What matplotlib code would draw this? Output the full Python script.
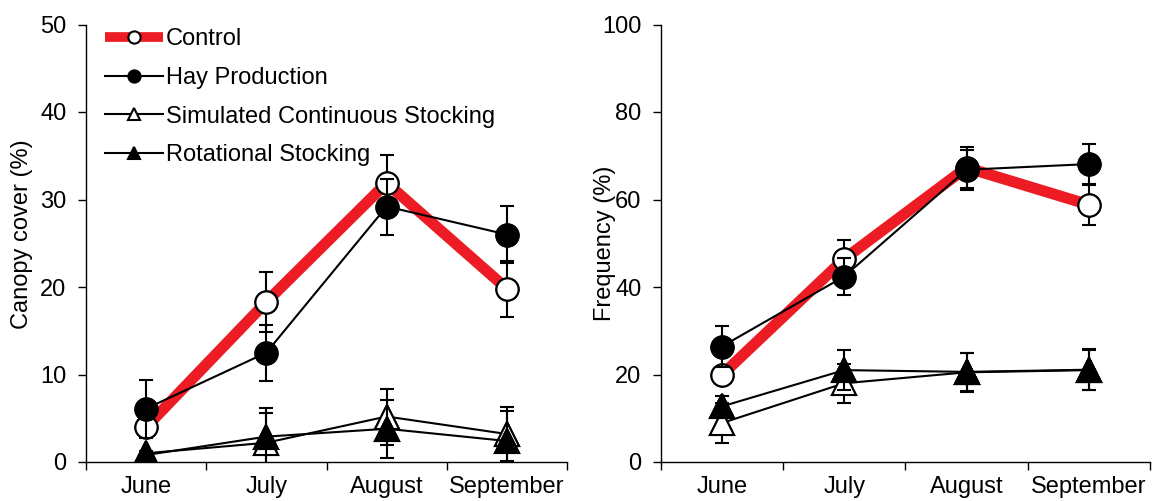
import matplotlib
matplotlib.use("Agg")
import matplotlib.pyplot as plt
from matplotlib.ticker import FixedLocator, NullFormatter, FixedFormatter

plt.rcParams['font.family'] = ['Liberation Sans', 'DejaVu Sans']

months = ["June", "July", "August", "September"]
series_names = ["Control", "Hay Production", "Simulated Continuous Stocking", "Rotational Stocking"]

# Canopy cover (%)
cover_control = [4.0, 18.3, 31.9, 19.8]
cover_control_err = [0.4, 3.4, 3.2, 3.2]
cover_hay = [6.1, 12.5, 29.2, 26.0]
cover_hay_err = [3.3, 3.2, 3.2, 3.3]
cover_scs = [1.0, 2.2, 5.2, 3.2]
cover_scs_err = [0.3, 3.4, 3.2, 3.1]
cover_rs = [0.8, 2.9, 3.8, 2.4]
cover_rs_err = [0.3, 3.3, 3.3, 3.4]

# Frequency (%)
freq_control = [19.9, 46.4, 67.3, 58.8]
freq_control_err = [1.0, 4.4, 4.6, 4.7]
freq_hay = [26.4, 42.4, 66.8, 68.1]
freq_hay_err = [4.7, 4.2, 4.6, 4.7]
freq_scs = [8.9, 18.0, 20.5, 21.0]
freq_scs_err = [4.6, 4.4, 4.5, 4.6]
freq_rs = [12.7, 21.0, 20.6, 21.1]
freq_rs_err = [2.3, 4.6, 4.3, 4.7]

left_ylim = (0, 50)
left_yticks = [0, 10, 20, 30, 40, 50]
right_ylim = (0, 100)
right_yticks = [0, 20, 40, 60, 80, 100]

RED = '#ED1C24'
FS = 17

W, H = 1152, 501
fig = plt.figure(figsize=(W / 100, H / 100), dpi=100)

def axes_px(x0, x1, y_top, y_bot):
    return fig.add_axes([x0 / W, 1 - y_bot / H, (x1 - x0) / W, (y_bot - y_top) / H])

ax1 = axes_px(86, 567, 24.5, 462)
ax2 = axes_px(660.7, 1150, 24.5, 462)

def draw(ax, data, ylim, yticks, ylabel, label_xy):
    x = list(range(len(months)))
    (c, ce), (h, he), (s, se), (r, re_) = data
    ebkw = dict(fmt='none', ecolor='black', elinewidth=1.5, capsize=4.7, capthick=1.5)
    # Control
    ax.plot(x, c, color=RED, lw=8, solid_capstyle='butt', zorder=2, label=series_names[0],
            marker='o', ms=16, mfc='white', mec='black', mew=1.5)
    ax.errorbar(x, c, yerr=ce, zorder=2.05, **ebkw)
    ax.plot(x, c, ls='none', marker='o', ms=16, mfc='white', mec='black', mew=1.5, zorder=2.1)
    # Hay production
    ax.plot(x, h, color='black', lw=1.5, zorder=3, label=series_names[1],
            marker='o', ms=16, mfc='black', mec='black', mew=1.5)
    ax.errorbar(x, h, yerr=he, zorder=3.05, **ebkw)
    ax.plot(x, h, ls='none', marker='o', ms=16, mfc='black', mec='black', mew=1.5, zorder=3.1)
    # Simulated continuous stocking
    ax.plot(x, s, color='black', lw=1.5, zorder=4, label=series_names[2],
            marker='^', ms=17, mfc='white', mec='black', mew=1.5)
    ax.errorbar(x, s, yerr=se, zorder=4.05, **ebkw)
    ax.plot(x, s, ls='none', marker='^', ms=17, mfc='white', mec='black', mew=1.5, zorder=4.1)
    # Rotational stocking
    ax.plot(x, r, color='black', lw=1.5, zorder=5, label=series_names[3],
            marker='^', ms=17, mfc='black', mec='black', mew=1.5)
    ax.errorbar(x, r, yerr=re_, zorder=5.05, **ebkw)
    ax.plot(x, r, ls='none', marker='^', ms=17, mfc='black', mec='black', mew=1.5, zorder=5.1)

    ax.set_xlim(-0.5, len(months) - 0.5)
    ax.set_ylim(*ylim)
    ax.set_yticks(yticks)
    ax.xaxis.set_major_locator(FixedLocator([i - 0.5 for i in range(len(months) + 1)]))
    ax.xaxis.set_major_formatter(NullFormatter())
    ax.xaxis.set_minor_locator(FixedLocator(x))
    ax.xaxis.set_minor_formatter(FixedFormatter(months))
    ax.tick_params(axis='x', which='major', direction='out', length=5.5, width=1)
    ax.tick_params(axis='x', which='minor', length=0, pad=10, labelsize=FS)
    ax.tick_params(axis='y', direction='out', length=5.5, width=1, pad=8.5, labelsize=FS)
    for sp in ('top', 'right'):
        ax.spines[sp].set_visible(False)
    for sp in ('left', 'bottom'):
        ax.spines[sp].set_linewidth(1)
    ax.set_ylabel(ylabel, fontsize=FS)
    ax.yaxis.set_label_coords(*label_xy)
    ax.patch.set_alpha(0)

draw(ax1, [(cover_control, cover_control_err), (cover_hay, cover_hay_err),
           (cover_scs, cover_scs_err), (cover_rs, cover_rs_err)],
     left_ylim, left_yticks, "Canopy cover (%)", (-0.110, 0.52))
draw(ax2, [(freq_control, freq_control_err), (freq_hay, freq_hay_err),
           (freq_scs, freq_scs_err), (freq_rs, freq_rs_err)],
     right_ylim, right_yticks, "Frequency (%)", (-0.091, 0.50))

leg = ax1.legend(loc='upper left', bbox_to_anchor=(105 / W, 1 - 28 / H),
                 bbox_transform=fig.transFigure, frameon=False, fontsize=FS,
                 borderpad=0, borderaxespad=0, handlelength=2.45, handletextpad=0.13,
                 labelspacing=0.71, markerscale=0.55)
for i, ln in enumerate(leg.get_lines()):
    if i == 0:
        ln.set_linewidth(7)

fig.savefig("out.png", dpi=100)
